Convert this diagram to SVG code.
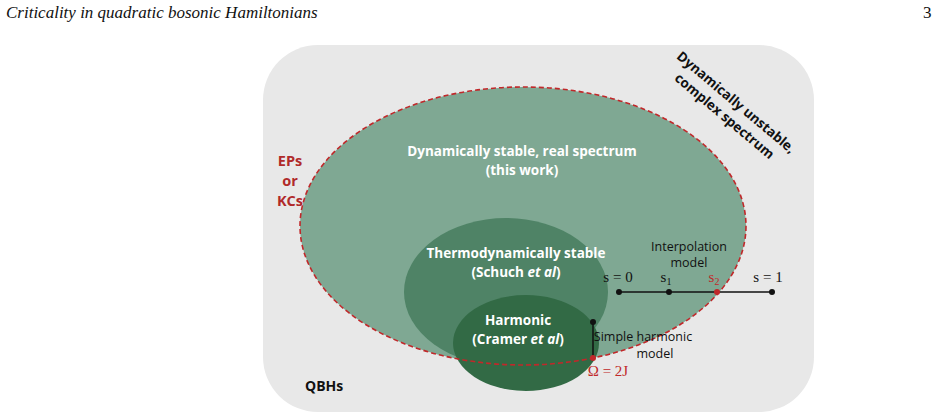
<svg xmlns="http://www.w3.org/2000/svg" width="942" height="418" viewBox="0 0 942 418">
<style>
.w{font-family:"Open Sans","Liberation Sans",sans-serif;font-weight:bold;font-size:13.5px;fill:#fff;text-anchor:middle}
.k{font-family:"Open Sans","Liberation Sans",sans-serif;font-size:12.5px;fill:#111;text-anchor:middle}
.m{font-family:"Liberation Serif",serif;font-size:15px;fill:#111;text-anchor:middle}
.hd{font-family:"Liberation Serif",serif;font-style:italic;font-size:17px;fill:#111}
</style>
<rect width="942" height="418" fill="#fff"/>
<text class="hd" x="6" y="18">Criticality in quadratic bosonic Hamiltonians</text>
<text x="923" y="18" style="font-family:'Liberation Serif',serif;font-size:17px;fill:#111">3</text>
<g id="qbh">
<rect x="263" y="45" width="551" height="367" rx="55" fill="#e8e8e8"/>
<text x="305" y="391" style="font-family:'Open Sans',sans-serif;font-weight:bold;font-size:14px;fill:#111">QBHs</text>
</g>
<g id="stable">
<ellipse cx="523" cy="226" rx="223" ry="139" fill="#7fa893"/>
<text class="w" x="522" y="156">Dynamically stable, real spectrum</text>
<text class="w" x="522" y="175">(this work)</text>
</g>
<g id="thermo">
<ellipse cx="506" cy="292" rx="102" ry="74" fill="#4f8366"/>
<text class="w" x="516" y="258">Thermodynamically stable</text>
<text class="w" x="516" y="277">(Schuch <tspan font-style="italic">et al</tspan>)</text>
</g>
<g id="harmonic">
<ellipse cx="526" cy="343" rx="73" ry="48" fill="#326a45"/>
<text class="w" x="518" y="325">Harmonic</text>
<text class="w" x="518" y="344">(Cramer <tspan font-style="italic">et al</tspan>)</text>
</g>
<g id="boundary">
<ellipse cx="523" cy="226" rx="223" ry="139" fill="none" stroke="#c0282a" stroke-width="1.6" stroke-dasharray="5,3"/>
<text class="w" x="290" y="166" style="fill:#b02a2a;font-size:14.5px">EPs</text>
<text class="w" x="290" y="186" style="fill:#b02a2a;font-size:14.5px">or</text>
<text class="w" x="290" y="206" style="fill:#b02a2a;font-size:14.5px">KCs</text>
</g>
<g id="unstable">
<text class="w" style="fill:#111" transform="translate(728,112) rotate(40)"><tspan x="0" y="-8">Dynamically unstable,</tspan><tspan x="0" y="10">complex spectrum</tspan></text>
</g>
<g id="connectors">
<line x1="619" y1="292" x2="772" y2="292" stroke="#111" stroke-width="1.5"/>
<circle cx="619" cy="292" r="3" fill="#111"/>
<circle cx="669" cy="292" r="3" fill="#111"/>
<circle cx="717" cy="292" r="3" fill="#c0282a"/>
<circle cx="772" cy="292" r="3" fill="#111"/>
<line x1="593" y1="322" x2="593" y2="358" stroke="#111" stroke-width="1.5"/>
<circle cx="593" cy="322" r="3" fill="#111"/>
<circle cx="593" cy="358" r="3" fill="#c0282a"/>
</g>
<g id="labels">
<text class="k" x="689" y="251">Interpolation</text>
<text class="k" x="689" y="267">model</text>
<text class="m" x="618" y="282">s = 0</text>
<text class="m" x="666" y="282">s<tspan font-size="10" dy="3">1</tspan></text>
<text class="m" x="714" y="282" style="fill:#c0282a">s<tspan font-size="10" dy="3">2</tspan></text>
<text class="m" x="768" y="282">s = 1</text>
<text class="k" x="643" y="341">Simple harmonic</text>
<text class="k" x="655" y="358">model</text>
<text class="m" x="608" y="376" style="fill:#c0282a">Ω = 2J</text>
</g>
</svg>
